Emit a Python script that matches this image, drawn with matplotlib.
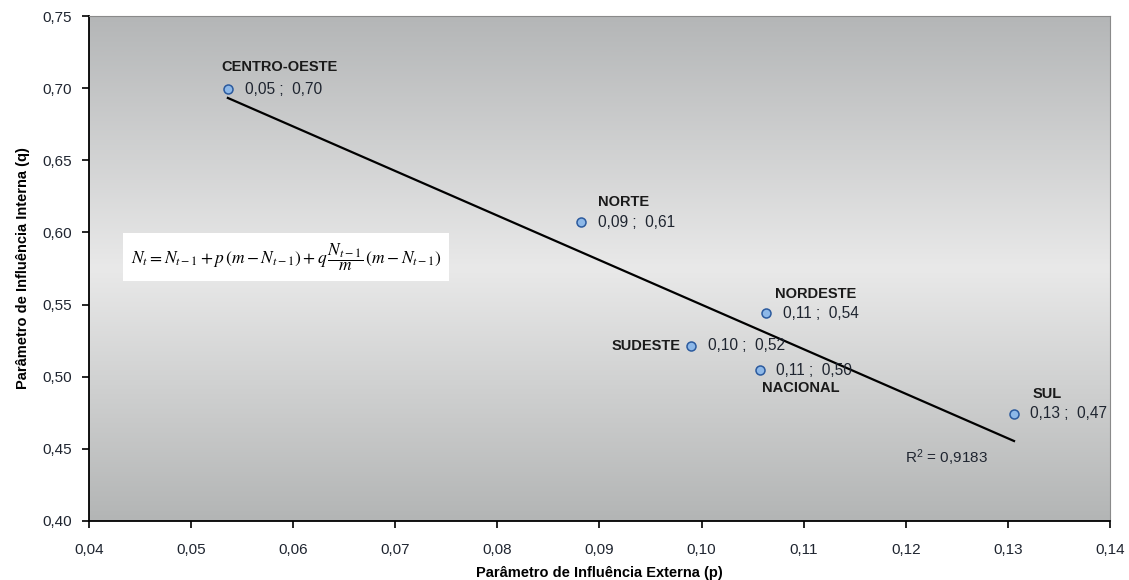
import numpy as np
import matplotlib
matplotlib.use("Agg")
import matplotlib.pyplot as plt
from matplotlib.ticker import FuncFormatter, MultipleLocator
from matplotlib.colors import LinearSegmentedColormap

# --- data ---
regions = ["CENTRO-OESTE", "NORTE", "NORDESTE", "SUDESTE", "NACIONAL", "SUL"]
p_values = [0.0536, 0.0882, 0.1063, 0.0990, 0.1057, 0.1306]
q_values = [0.6994, 0.6072, 0.5441, 0.5213, 0.5046, 0.4742]
value_labels = ["0,05 ;  0,70", "0,09 ;  0,61", "0,11 ;  0,54",
                "0,10 ;  0,52", "0,11 ;  0,50", "0,13 ;  0,47"]
r2_text = "R$^2$ = 0,9183"

# label placement (pixel offsets from the point): name, value
name_offsets = {"CENTRO-OESTE": (-6, 22, "left"), "NORTE": (17, 20, "left"),
                "NORDESTE": (9, 19, "left"), "SUDESTE": (-11, 0, "right"),
                "NACIONAL": (2, -18, "left"), "SUL": (19, 20, "left")}
value_offsets = {"CENTRO-OESTE": 17, "NORTE": 17, "NORDESTE": 17,
                 "SUDESTE": 17, "NACIONAL": 16, "SUL": 16}

plt.rcParams["font.family"] = ["Liberation Sans", "DejaVu Sans"]
plt.rcParams["mathtext.fontset"] = "custom"
plt.rcParams["mathtext.rm"] = "Liberation Sans"
plt.rcParams["mathtext.it"] = "Liberation Sans:italic"

fig = plt.figure(figsize=(11.29, 5.80), dpi=100)
ax = fig.add_axes([89 / 1129, 1 - 521 / 580, 1021 / 1129, 505 / 580])

# gradient background (grey - light - grey)
cmap = LinearSegmentedColormap.from_list(
    "bg", [(0.0, "#b4b6b7"), (0.5, "#e9e9e9"), (1.0, "#b3b5b5")])
grad = np.linspace(0, 1, 256).reshape(-1, 1)
ax.imshow(grad, aspect="auto", cmap=cmap, extent=[0, 1, 0, 1],
          transform=ax.transAxes, zorder=0, origin="upper")

ax.set_xlim(0.04, 0.14)
ax.set_ylim(0.40, 0.75)
ax.xaxis.set_major_locator(MultipleLocator(0.01))
ax.yaxis.set_major_locator(MultipleLocator(0.05))
ax.xaxis.set_major_formatter(FuncFormatter(lambda v, _: f"{v:.2f}".replace(".", ",")))
ax.yaxis.set_major_formatter(FuncFormatter(lambda v, _: f"{v:.2f}".replace(".", ",")))
ax.tick_params(direction="out", length=5, width=1.2, labelsize=11,
               colors="black", labelcolor="#1f2530")
ax.tick_params(axis="x", pad=11)
ax.tick_params(axis="y", pad=7)

for s in ["left", "bottom"]:
    ax.spines[s].set_color("black")
    ax.spines[s].set_linewidth(1.3)
for s in ["top", "right"]:
    ax.spines[s].set_color("#8a8a8a")
    ax.spines[s].set_linewidth(0.8)

# trend line
coef = np.polyfit(p_values, q_values, 1)
xs = np.array([min(p_values), max(p_values)])
ax.plot(xs, np.polyval(coef, xs), color="black", lw=1.6, zorder=2)

ax.scatter(p_values, q_values, s=42, facecolor="#8db8e8", edgecolor="#2b5a9e",
           linewidth=1.1, zorder=3)

for name, x, y, val in zip(regions, p_values, q_values, value_labels):
    dx, dy, ha = name_offsets[name]
    ax.annotate(name, (x, y), xytext=(dx, dy), textcoords="offset pixels",
                ha=ha, va="center", fontsize=10.5, fontweight="bold", color="#1a1a1a",
                zorder=4)
    ax.annotate(val, (x, y), xytext=(value_offsets[name], 0), textcoords="offset pixels",
                ha="left", va="center", fontsize=11.2, color="#1f2530", zorder=4)

ax.text(0.1199, 0.4437, r2_text, ha="left", va="center", fontsize=11, color="#1f2530")

# Bass model equation box
eq = (r"$N_t = N_{t-1} + p\,(m - N_{t-1}) + q\,\dfrac{N_{t-1}}{m}\,(m - N_{t-1})$")
ax.text(0.193, 0.523, eq, transform=ax.transAxes, ha="center", va="center",
        fontsize=12.5, math_fontfamily="stix", color="black",
        bbox=dict(boxstyle="square,pad=0.45", facecolor="white", edgecolor="none"),
        zorder=4)

ax.set_xlabel("Parâmetro de Influência Externa (p)", fontsize=10.5, fontweight="bold",
              labelpad=6)
ax.set_ylabel("Parâmetro de Influência Interna (q)", fontsize=10.5, fontweight="bold",
              labelpad=9)

fig.savefig("out.png", dpi=100, facecolor="white")
